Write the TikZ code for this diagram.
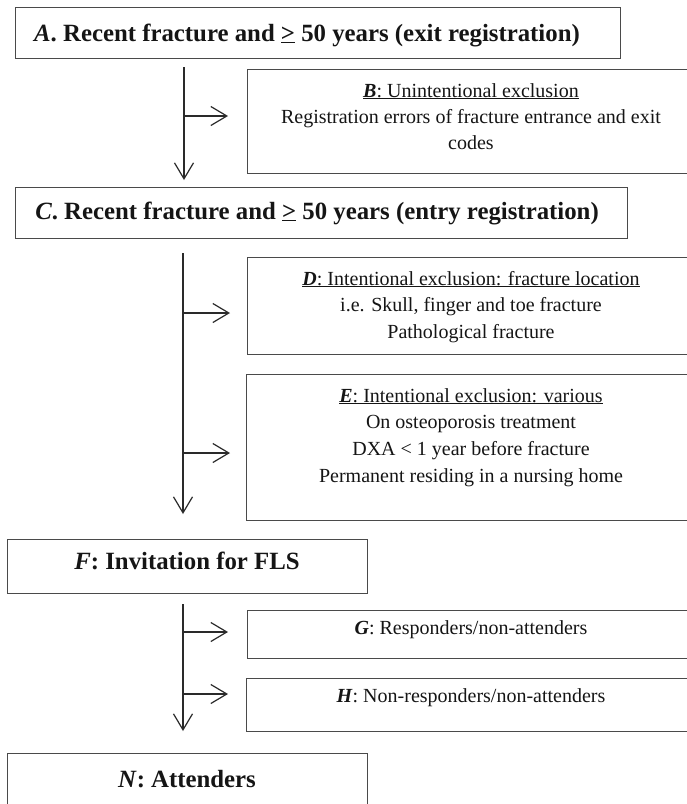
\documentclass[tikz,border=0pt]{standalone}
\usepackage{fontspec}
\setmainfont{Liberation Serif}
\usetikzlibrary{arrows.meta}
\definecolor{boxgray}{HTML}{4A4A4A}
\definecolor{arrgray}{HTML}{2A2A2A}
\definecolor{txtc}{HTML}{151515}
\newcommand{\bi}[1]{\textbf{\textit{#1}}}
\begin{document}
\begin{tikzpicture}[x=1pt,y=-1pt,
  box/.style={draw=boxgray, line width=1.2pt, inner sep=0pt, anchor=north west},
  arr/.style={draw=arrgray, line width=1.2pt, -{Straight Barb[length=16pt,width=19pt,line width=1.2pt]}},
  big/.style={font=\fontsize{24.8}{30}\selectfont\bfseries, text=txtc, inner sep=0pt, anchor=base},
  txt/.style={font=\fontsize{20}{26}\selectfont, text=txtc, inner sep=0pt, anchor=base}]
\clip (0,0) rectangle (687,804);
\fill[white] (0,0) rectangle (687,804);
% boxes
\node[box, minimum width=605pt, minimum height=51pt] (A) at (15,7) {};
\node[box, minimum width=448pt, minimum height=104pt] (B) at (247,69) {};
\node[box, minimum width=612pt, minimum height=51pt] (C) at (15,187) {};
\node[box, minimum width=448pt, minimum height=97pt] (D) at (247,257) {};
\node[box, minimum width=449pt, minimum height=146pt] (E) at (246,374) {};
\node[box, minimum width=360pt, minimum height=54pt] (F) at (7,539) {};
\node[box, minimum width=448pt, minimum height=48pt] (G) at (247,610) {};
\node[box, minimum width=449pt, minimum height=53pt] (H) at (246,678) {};
\node[box, minimum width=360pt, minimum height=70pt] (N) at (7,753) {};
% texts
\node[big] (tA) at (307,41) {\textit{A}. Recent fracture and \underline{>} 50 years (exit registration)};
\node[big] (tC) at (317,219) {\textit{C}. Recent fracture and \underline{>} 50 years (entry registration)};
\node[big] (tF) at (187,569) {\textit{F}: Invitation for FLS};
\node[big] (tN) at (187,787) {\textit{N}: Attenders};
\node[txt] (tB1) at (471,97) {\underline{\bi{B}: Unintentional exclusion}};
\node[txt] (tB2) at (471,123) {Registration errors of fracture entrance and exit};
\node[txt] (tB3) at (471,149) {codes};
\node[txt] (tD1) at (471,285) {\underline{\bi{D}: Intentional exclusion: fracture location}};
\node[txt] (tD2) at (471,311) {i.e. Skull, finger and toe fracture};
\node[txt] (tD3) at (471,338) {Pathological fracture};
\node[txt] (tE1) at (471,402) {\underline{\bi{E}: Intentional exclusion: various}};
\node[txt] (tE2) at (471,428) {On osteoporosis treatment};
\node[txt] (tE3) at (471,455) {DXA < 1 year before fracture};
\node[txt] (tE4) at (471,482) {Permanent residing in a nursing home};
\node[txt] (tG) at (471,634) {\bi{G}: Responders/non-attenders};
\node[txt] (tH) at (471,702) {\bi{H}: Non-responders/non-attenders};
% connector columns
\coordinate (x1) at (184,0);
\coordinate (x2) at (183,0);
\coordinate (bB) at (184,116);
\coordinate (bD) at (183,313);
\coordinate (bE) at (183,453);
\coordinate (bG) at (183,632);
\coordinate (bH) at (183,694);
\draw[arr, shorten <=8pt, shorten >=7pt] (A.south -| x1) -- (C.north -| x1);
\draw[arr, shorten <=14pt, shorten >=25pt] (C.south -| x2) -- (F.north -| x2);
\draw[arr, shorten <=10pt, shorten >=22pt] (F.south -| x2) -- (N.north -| x2);
\draw[arr, shorten >=19pt] (bB) -- (B.west |- bB);
\draw[arr, shorten >=17pt] (bD) -- (D.west |- bD);
\draw[arr, shorten >=16pt] (bE) -- (E.west |- bE);
\draw[arr, shorten >=19pt] (bG) -- (G.west |- bG);
\draw[arr, shorten >=18pt] (bH) -- (H.west |- bH);
\end{tikzpicture}
\end{document}
